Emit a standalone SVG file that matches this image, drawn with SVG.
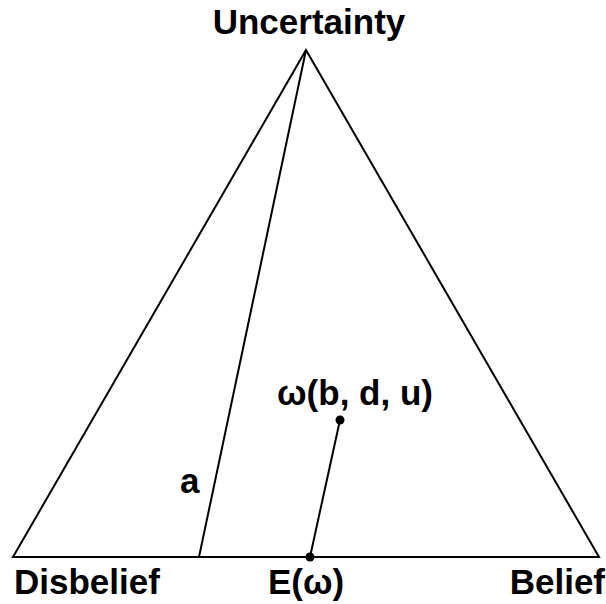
<svg xmlns="http://www.w3.org/2000/svg" width="606" height="604" viewBox="0 0 606 604">
<style>
.l{fill:none;stroke:#000;stroke-width:2}
.t{font-family:"Liberation Sans",Arial,sans-serif;font-weight:bold;font-size:35px;fill:#000}
</style>
<rect width="606" height="604" fill="#fff"/>
<g id="triangle">
<polygon class="l" points="306,50 13,557 599,557"/>
</g>
<g id="connectors">
<line class="l" x1="306" y1="50" x2="199" y2="557"/>
<line class="l" x1="340" y1="420" x2="310" y2="557"/>
</g>
<g id="uncertainty"><text class="t" x="309" y="34" text-anchor="middle">Uncertainty</text></g>
<g id="disbelief"><text class="t" x="14" y="594">Disbelief</text></g>
<g id="belief"><text class="t" x="605" y="594" text-anchor="end">Belief</text></g>
<g id="expectation"><circle cx="310" cy="557" r="4.5"/><text class="t" x="306" y="594" text-anchor="middle">E(ω)</text></g>
<g id="opinion"><circle cx="340" cy="420" r="4.5"/><text class="t" x="355" y="405" text-anchor="middle">ω(b, d, u)</text></g>
<g id="a"><text class="t" x="180" y="493">a</text></g>
</svg>
